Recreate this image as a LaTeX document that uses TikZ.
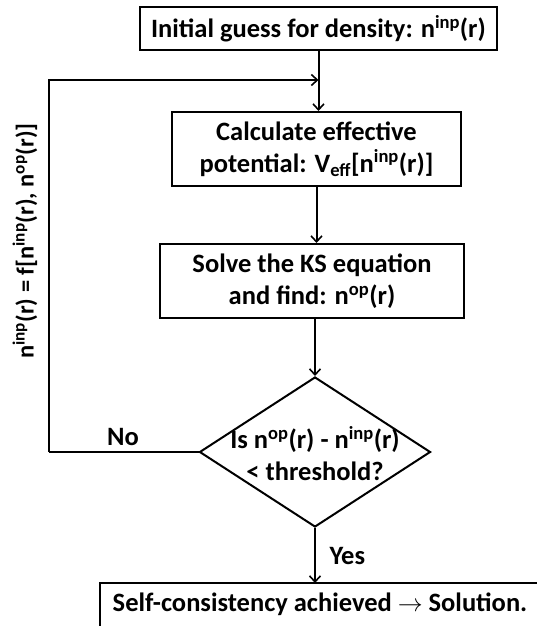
\documentclass[tikz,border=0pt]{standalone}
\usepackage{fontspec}
\setmainfont{Carlito}
\usetikzlibrary{arrows.meta,shapes.geometric}
\tikzset{
  every node/.style={font=\fontsize{26.5}{32}\selectfont\bfseries},
  procbox/.style={draw, line width=2pt, inner sep=0pt, align=center},
  link/.style={line width=2pt, -{Straight Barb[length=6pt,width=11pt,line width=1.6pt]}},
  plain/.style={line width=2pt},
}
\begin{document}
\begin{tikzpicture}[x=1pt,y=-1pt]
\useasboundingbox (0,0) rectangle (536,626);
\node[procbox, minimum width=357pt, minimum height=43pt] (top) at (318.5,28.5) {Initial guess for density: n\textsuperscript{inp}(r)};
\node[procbox, minimum width=289pt, minimum height=74pt] (calc) at (316.5,149) {Calculate effective\\potential: V\textsubscript{eff}[n\textsuperscript{inp}(r)]};
\node[procbox, minimum width=304pt, minimum height=74pt] (solve) at (312,281) {Solve the KS equation\\and find: n\textsuperscript{op}(r)};
\node[draw, diamond, line width=2pt, minimum width=231pt, minimum height=150pt, inner sep=0pt] (dia) at (315,452) {};
\node[align=center] (diatext) at (315,454) {Is n\textsuperscript{op}(r) - n\textsuperscript{inp}(r)\\< threshold?};
\draw[plain] (100,583) rectangle (545,640);
\node (bottom) at (320,604) {Self-consistency achieved $\rightarrow$ Solution.};
\coordinate (bottomtop) at (315,583);
\coordinate (fbL) at (49,452);
\coordinate (fbT) at (49,80);
\coordinate (fbJ) at (318.5,80);
\draw[link] (top.south) -- (top.south |- calc.north);
\draw[link] (fbL) -- (fbT) -- (fbJ);
\draw[plain] (dia.west) -- (fbL);
\draw[link] (calc.south) -- (calc.south |- solve.north);
\draw[link] (solve.south -| dia.north) -- (dia.north);
\draw[link] (dia.south) -- (bottomtop);
\node (no) at (123,437) {No};
\node[anchor=west] (yes) at (326,556) {Yes};
\node[rotate=90, font=\fontsize{24.5}{30}\selectfont\bfseries] (rule) at (25,241) {n\textsuperscript{inp}(r) = f[n\textsuperscript{inp}(r), n\textsuperscript{op}(r)]};
\end{tikzpicture}
\end{document}
